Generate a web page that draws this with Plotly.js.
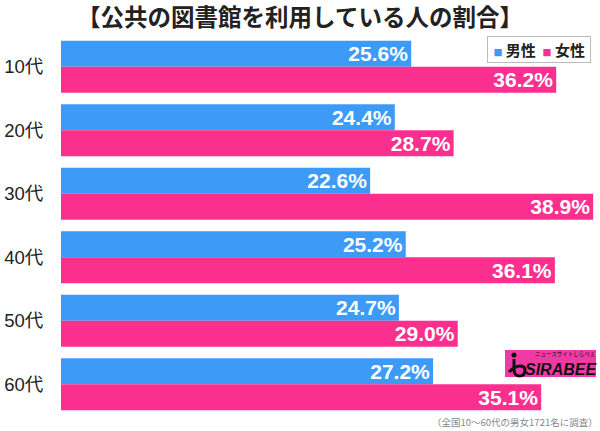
<!DOCTYPE html>
<html>
<head>
<meta charset="utf-8">
<script src="https://cdn.plot.ly/plotly-3.0.1.min.js"></script>
<style>html,body{margin:0;padding:0;background:#fff;}#chart{width:600px;height:431px;}</style>
</head>
<body>
<div id="chart"></div>
<script>
const categories = ["10代", "20代", "30代", "40代", "50代", "60代"];
const male = [25.6, 24.4, 22.6, 25.2, 24.7, 27.2];
const female = [36.2, 28.7, 38.9, 36.1, 29.0, 35.1];
const seriesNames = ["男性", "女性"];
const titleText = "【公共の図書館を利用している人の割合】";
const noteText = "（全国10～60代の男女1721名に調査）";

const BLUE = "#3d9bf7";
const PINK = "#fb2f8e";
const LOGO_PINK = "#f23aa6";

// pixel -> paper helpers for decorative elements (plot area: x 61..600, y 35..416)
const L = 61, R = 600, T = 35, B = 416;
const px = v => (v - L) / (R - L);
const py = v => (B - v) / (B - T);

const labelFont = {family: "Liberation Sans, Arial, sans-serif", size: 21, color: "#ffffff", weight: "bold"};

const traces = [
  {type: "bar", orientation: "h", name: seriesNames[0], y: categories, x: male,
   marker: {color: BLUE}, texttemplate: "<b>%{x:.1f}%</b>", textposition: "inside",
   insidetextanchor: "end", constraintext: "none", textfont: labelFont, hoverinfo: "skip"},
  {type: "bar", orientation: "h", name: seriesNames[1], y: categories, x: female,
   marker: {color: PINK}, texttemplate: "<b>%{x:.1f}%</b>", textposition: "inside",
   insidetextanchor: "end", constraintext: "none", textfont: labelFont, hoverinfo: "skip"}
];

const iPath = "M " + px(514) + " " + py(359) + " L " + px(514) + " " + py(369) +
  " Q " + px(514) + " " + py(376) + " " + px(519.5) + " " + py(376) +
  " Q " + px(525) + " " + py(376) + " " + px(525) + " " + py(370) +
  " Q " + px(525) + " " + py(366) + " " + px(520) + " " + py(366) +
  " Q " + px(515) + " " + py(366) + " " + px(509) + " " + py(372);

const layout = {
  width: 600, height: 431,
  margin: {l: L, r: 0, t: T, b: 431 - B, pad: 0},
  paper_bgcolor: "#ffffff", plot_bgcolor: "#ffffff",
  barmode: "group", bargap: 0.18, bargroupgap: 0,
  showlegend: false,
  title: {text: "<b>" + titleText + "</b>", x: 0.5, xref: "container", y: 1 - 18 / 431, yanchor: "middle",
          font: {family: "Noto Sans CJK JP, sans-serif", size: 23.5, color: "#222222"}},
  xaxis: {range: [0, 39.4], visible: false, fixedrange: true},
  yaxis: {autorange: "reversed", showgrid: false, zeroline: false, showline: false,
          ticks: "outside", ticklen: 13, tickcolor: "rgba(0,0,0,0)",
          tickfont: {family: "Liberation Sans, Noto Sans CJK JP, sans-serif", size: 18.5, color: "#222222"}},
  shapes: [
    {type: "rect", xref: "paper", yref: "paper", x0: px(505), x1: px(596), y0: py(377), y1: py(350),
     fillcolor: LOGO_PINK, line: {width: 0}, layer: "above"},
    {type: "path", xref: "paper", yref: "paper", path: iPath, line: {color: "#111", width: 3}, layer: "above"},
    {type: "circle", xref: "paper", yref: "paper", x0: px(511.5), x1: px(516.5), y0: py(357.5), y1: py(352.5),
     fillcolor: "#111", line: {width: 0}, layer: "above"}
  ],
  annotations: [
    {xref: "paper", yref: "paper", x: px(539), y: py(49.5), xanchor: "center", yanchor: "middle",
     showarrow: false, bordercolor: "#bbbbbb", borderwidth: 1, borderpad: 2, bgcolor: "#ffffff",
     text: " <span style='color:" + BLUE + ";font-size:9px'>■</span> <b>" + seriesNames[0] + "</b>  <span style='color:" + PINK + ";font-size:9px'>■</span> <b>" + seriesNames[1] + "</b> ",
     font: {family: "Noto Sans CJK JP, sans-serif", size: 15, color: "#222222"}},
    {xref: "paper", yref: "paper", x: px(561), y: py(369), xanchor: "center", yanchor: "middle",
     showarrow: false, text: "<b><i>SIRABEE</i></b>",
     font: {family: "Liberation Sans, sans-serif", size: 16, color: "#111111"}},
    {xref: "paper", yref: "paper", x: px(565), y: py(354), xanchor: "center", yanchor: "middle",
     showarrow: false, text: "ニュースサイトしらべぇ",
     font: {family: "Noto Sans CJK JP, sans-serif", size: 5.5, color: "#111111"}},
    {xref: "paper", yref: "paper", x: 1, y: py(422), xanchor: "right", yanchor: "middle",
     showarrow: false, text: noteText,
     font: {family: "Noto Sans CJK JP, sans-serif", size: 9.5, color: "#888888"}}
  ]
};

Plotly.newPlot("chart", traces, layout, {staticPlot: true, displayModeBar: false});
</script>
</body>
</html>
